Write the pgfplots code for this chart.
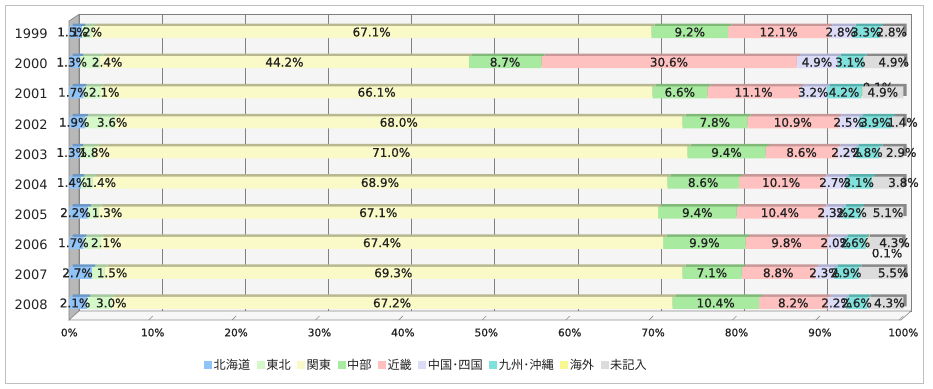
\documentclass[border=0pt]{standalone}
\usepackage{pgfplots}
\pgfplotsset{compat=1.18}
\usepackage{pgfplotstable}
\usepackage{fontspec}
\setmainfont{DejaVu Sans}
\newfontfamily\lblfont[FakeBold=0.8]{DejaVu Sans}
\newfontfamily\cjk{Noto Sans CJK JP}
\definecolor{cHok}{HTML}{90C4F8}
\definecolor{cToh}{HTML}{D4F8C8}
\definecolor{cKan}{HTML}{FAFAC8}
\definecolor{cChu}{HTML}{A8EAA0}
\definecolor{cKin}{HTML}{FFC0C0}
\definecolor{cChs}{HTML}{DCDCF8}
\definecolor{cKyu}{HTML}{80E0DC}
\definecolor{cKai}{HTML}{F8F890}
\definecolor{cMik}{HTML}{DCDCDC}
\definecolor{dHok}{HTML}{6C98C8}
\definecolor{dToh}{HTML}{A8C8A0}
\definecolor{dKan}{HTML}{B8B890}
\definecolor{dChu}{HTML}{80B878}
\definecolor{dKin}{HTML}{C89898}
\definecolor{dChs}{HTML}{B0B0D0}
\definecolor{dKyu}{HTML}{58B0AC}
\definecolor{dKai}{HTML}{C8C870}
\definecolor{dMik}{HTML}{888888}
\definecolor{txt}{HTML}{222222}

% values (percent); tsh / msh = horizontal label offsets (pt) for the 東北 / 未記入 labels
\pgfplotstableread{
idx hok toh kan chu kin chs kyu kai mik tsh msh
0 1.5 1.2 67.1 9.2 12.1 2.8 3.3 0 2.8 0 0
1 1.3 2.4 44.2 8.7 30.6 4.9 3.1 0 4.9 17 10
2 1.7 2.1 66.1 6.6 11.1 3.2 4.2 0.1 4.9 12 0
3 1.9 3.6 68.0 7.8 10.9 2.5 3.9 0 1.4 12 5
4 1.3 1.8 71.0 9.4 8.6 2.2 2.8 0 2.9 7 10
5 1.4 1.4 68.9 8.6 10.1 2.7 3.1 0 3.8 14 16
6 2.2 1.3 67.1 9.4 10.4 2.3 2.2 0 5.1 14 6
7 1.7 2.1 67.4 9.9 9.8 2.0 2.6 0.1 4.3 14 10
8 2.7 1.5 69.3 7.1 8.8 2.3 2.9 0 5.5 14 12
9 2.1 3.0 67.2 10.4 8.2 2.2 2.6 0 4.3 12 4
}\datatable

\pgfplotsset{
  base/.style={
    xbar stacked, scale only axis, width=834pt, height=301pt,
    xmin=0, xmax=100, ymin=-0.5, ymax=9.5, y dir=reverse,
    bar width=12pt, anchor=south west, clip=false,
  },
  lab/.style={
    nodes near coords={\pgfmathprintnumber[fixed,fixed zerofill,precision=1]{\pgfplotspointmeta}\%},
    point meta=rawx,
    every node near coord/.append style={anchor=center, xshift=#1,
      font=\lblfont\fontsize{12}{12}\selectfont, text=txt, inner sep=0pt},
  },
  lab/.default=0pt,
}

\begin{document}
\begin{tikzpicture}
\useasboundingbox (0pt,0pt) rectangle (933pt,388pt);
\begin{scope}[x=1pt,y=1pt]
% outer frame
\draw[line width=1pt, color=black!25] (5.5,382.5) rectangle (923.5,5);
% back wall
\fill[black!4] (79,373.7) rectangle (911,77);
\foreach \k in {1,...,9} {
  \draw[color=black!50, line width=0.8pt] ({79+83.16*\k},77) -- ({79+83.16*\k},373.7);
}
\draw[color=black!50, line width=0.8pt] (79,77) rectangle (911,373.7);
% left wall
\filldraw[fill=black!28, draw=black!50, line width=0.6pt] (69,367) -- (79,373.7) -- (79,77) -- (69,68) -- cycle;
% floor
\filldraw[fill=black!3, draw=black!45, line width=0.6pt] (69,68) -- (79,77) -- (911,77) -- (901,68) -- cycle;
\foreach \k in {1,...,10} {
  \draw[color=black!45, line width=0.6pt] ({69.3+83.4*\k-4},68) -- ({69.3+83.4*\k},72);
}
\end{scope}

% shadow (3D top/side) bars
\begin{axis}[base, at={(72.5pt,72.5pt)}, hide axis]
\addplot[fill=dHok, draw=none] table[x=hok, y=idx] {\datatable};
\addplot[fill=dToh, draw=none] table[x=toh, y=idx] {\datatable};
\addplot[fill=dKan, draw=none] table[x=kan, y=idx] {\datatable};
\addplot[fill=dChu, draw=none] table[x=chu, y=idx] {\datatable};
\addplot[fill=dKin, draw=none] table[x=kin, y=idx] {\datatable};
\addplot[fill=dChs, draw=none] table[x=chs, y=idx] {\datatable};
\addplot[fill=dKyu, draw=none] table[x=kyu, y=idx] {\datatable};
\addplot[fill=dKai, draw=none] table[x=kai, y=idx] {\datatable};
\addplot[fill=dMik, draw=none] table[x=mik, y=idx] {\datatable};
\end{axis}

% main bars
\begin{axis}[base, at={(69.3pt,70pt)},
  axis line style={draw=none}, major tick length=0pt,
  xtick={0,10,...,100}, xticklabel={\pgfmathprintnumber{\tick}\%},
  /pgf/number format/assume math mode=true,
  xticklabel style={font=\lblfont\fontsize{10.5}{12}\selectfont, text=txt, yshift=-7pt},
  ytick={0,...,9}, yticklabels={1999,2000,2001,2002,2003,2004,2005,2006,2007,2008},
  yticklabel style={font=\fontsize{13}{14}\selectfont, text=txt, xshift=-18pt, yshift=-2pt},
  legend style={at={(0.428,-0.156)}, anchor=center, draw=none, fill=none,
    legend columns=-1, font=\cjk\fontsize{12.2}{14}\selectfont, text=txt,
    nodes={inner sep=1.5pt},
    /tikz/every even column/.append style={column sep=5pt}},
  legend image code/.code={\fill[#1] (0pt,-4pt) rectangle (8pt,4pt);},
]
\addplot[fill=cHok, draw=none, lab=-3pt] table[x=hok, y=idx] {\datatable};
\addplot[fill=cToh, draw=none, visualization depends on={\thisrow{tsh} \as \tsh},
  lab={\tsh pt}] table[x=toh, y=idx] {\datatable};
\addplot[fill=cKan, draw=none, lab] table[x=kan, y=idx] {\datatable};
\addplot[fill=cChu, draw=none, lab] table[x=chu, y=idx] {\datatable};
\addplot[fill=cKin, draw=none, lab] table[x=kin, y=idx] {\datatable};
\addplot[fill=cChs, draw=none, lab] table[x=chs, y=idx] {\datatable};
\addplot[fill=cKyu, draw=none, lab] table[x=kyu, y=idx] {\datatable};
\addplot[fill=cKai, draw=none] table[x=kai, y=idx] {\datatable};
\addplot[fill=cMik, draw=none, visualization depends on={\thisrow{msh} \as \msh},
  lab={\msh pt}] table[x=mik, y=idx] {\datatable};
\legend{北海道,東北,関東,中部,近畿,中国･四国,九州･沖縄,海外,未記入}
\node[font=\lblfont\fontsize{12}{12}\selectfont, text=txt, inner sep=0pt] at (axis cs:96.96,1.83) {0.1\%};
\node[font=\lblfont\fontsize{12}{12}\selectfont, text=txt, inner sep=0pt] at (axis cs:98.05,7.34) {0.1\%};
\end{axis}
\end{tikzpicture}
\end{document}
